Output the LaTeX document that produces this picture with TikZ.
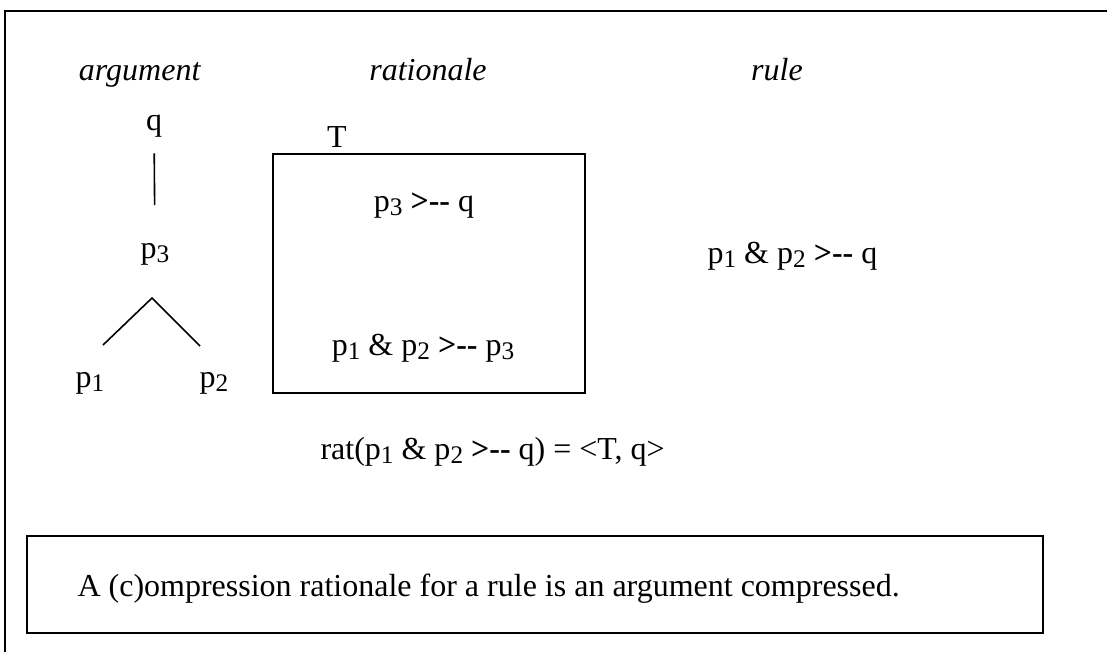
\documentclass[tikz,border=0pt]{standalone}
\usepackage{fontspec}
\setmainfont{Liberation Serif}
\newcommand{\ix}[1]{\raisebox{-1.8pt}{\fontsize{9.5}{10}\selectfont #1}}
\newcommand{\dfs}{\textbf{\textgreater-{}-}}
\begin{document}
\begin{tikzpicture}[x=0.375pt, y=-0.375pt,
  every node/.style={inner sep=0pt, font=\fontsize{12}{14}\selectfont},
  lbl/.style={anchor=base},
  lft/.style={anchor=base west},
  box/.style={draw, line width=0.9pt}]
\useasboundingbox (0,0) rectangle (1107,652);
\draw[line width=1pt] (5,652) -- (5,11) -- (1107,11);
% column titles
\node[lbl] (targ) at (140,80) {\textit{argument}};
\node[lbl] (trat) at (428,80) {\textit{rationale}};
\node[lbl] (trule) at (777,80) {\textit{rule}};
% argument
\node[lbl] (q) at (154,130) {q};
\node[lbl] (p3) at (155,258) {p\ix{3}};
\node[lbl] (p1) at (90,387) {p\ix{1}};
\node[lbl] (p2) at (214,387) {p\ix{2}};
\coordinate (fork) at (152,298);
\coordinate (lfoot) at (103,345);
\coordinate (rfoot) at (200,346);
\draw[line width=0.6pt, shorten <=6pt, shorten >=14pt] (q) -- (p3);
\draw[line width=0.6pt] (lfoot) -- (fork) -- (rfoot);
% rationale
\node[box, minimum width=117pt, minimum height=89.6pt] (tbox) at (429,273.5) {};
\node[lbl] (tname) at (337,147) {T};
\node[lbl] (r1) at (424,211) {p\ix{3} \dfs{} q};
\node[lbl] (r2) at (423,355) {p\ix{1} \& p\ix{2} \dfs{} p\ix{3}};
% rule
\node[lft] (rule) at (707,263) {p\ix{1} \& p\ix{2} \dfs{} q};
\node[lft] (ratdef) at (320,459) {rat(p\ix{1} \& p\ix{2} \dfs{} q) = <T, q>};
% summary
\node[box, minimum width=381pt, minimum height=36.4pt] (sumbox) at (535,584.5) {};
\node[lft] (sumtext) at (77,596) {A (c)ompression rationale for a rule is an argument compressed.};
\end{tikzpicture}
\end{document}
